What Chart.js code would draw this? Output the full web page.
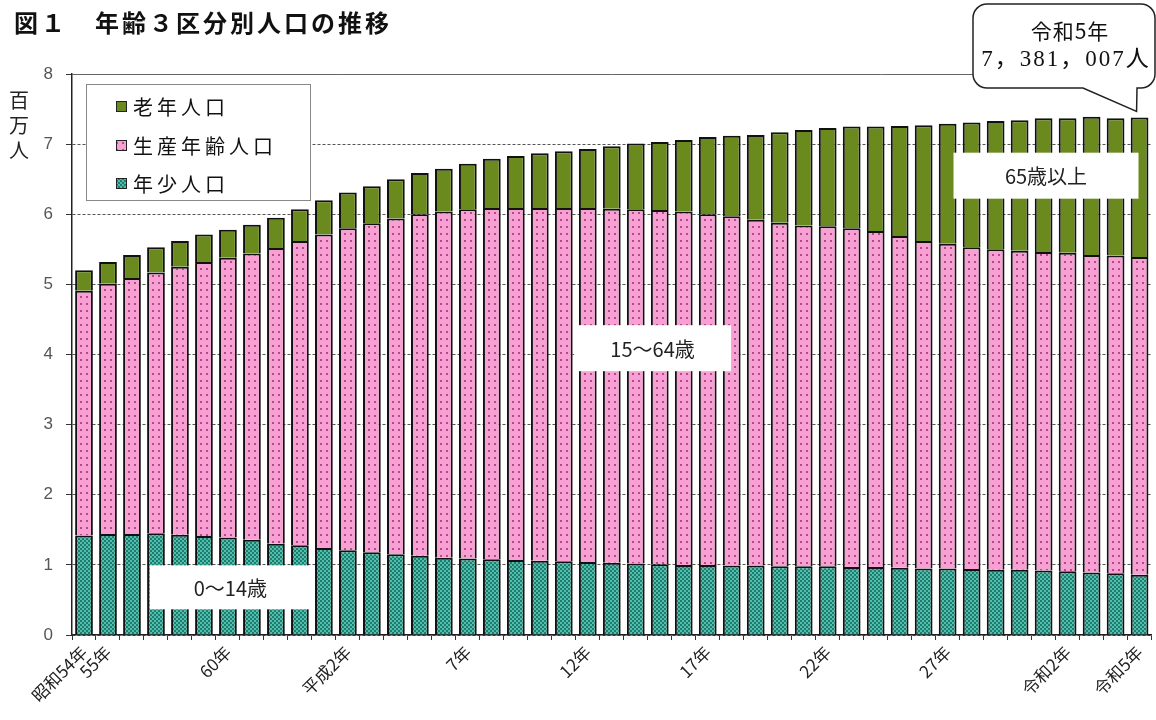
<!DOCTYPE html>
<html lang="ja">
<head>
<meta charset="utf-8">
<script src="https://cdn.jsdelivr.net/npm/chart.js@4.4.0/dist/chart.umd.min.js"></script>
<style>
html, body { margin: 0; padding: 0; background: #fff; }
canvas { display: block; }
</style>
</head>
<body>
<canvas id="myChart" width="1156" height="720"></canvas>
<script>
// 年齢3区分別人口（百万人）昭和54年〜令和5年
var years = ['昭和54年', '55年', '', '', '', '', '60年', '', '', '', '', '平成2年', '', '', '', '',
  '7年', '', '', '', '', '12年', '', '', '', '', '17年', '', '', '', '', '22年', '', '', '', '',
  '27年', '', '', '', '', '令和2年', '', '', '令和5年'];

var youngPop = [1.42, 1.44, 1.44, 1.45, 1.43, 1.41, 1.39, 1.36, 1.30, 1.28, 1.24, 1.21, 1.18, 1.15, 1.13,
  1.10, 1.09, 1.08, 1.07, 1.06, 1.05, 1.04, 1.03, 1.02, 1.01, 1.00, 1.00, 0.99, 0.99, 0.98,
  0.98, 0.98, 0.97, 0.97, 0.96, 0.95, 0.95, 0.94, 0.93, 0.93, 0.92, 0.91, 0.89, 0.88, 0.86];

var workingPop = [3.49, 3.57, 3.65, 3.72, 3.82, 3.91, 3.99, 4.08, 4.22, 4.34, 4.47, 4.59, 4.69, 4.79, 4.87,
  4.94, 4.98, 5.01, 5.02, 5.03, 5.04, 5.05, 5.05, 5.05, 5.05, 5.04, 5.00, 4.98, 4.93, 4.90,
  4.86, 4.85, 4.83, 4.79, 4.73, 4.67, 4.63, 4.59, 4.57, 4.55, 4.54, 4.54, 4.53, 4.53, 4.53];

var elderlyPop = [0.29, 0.31, 0.33, 0.36, 0.37, 0.39, 0.40, 0.41, 0.43, 0.45, 0.49, 0.51, 0.53, 0.56, 0.59,
  0.61, 0.65, 0.70, 0.74, 0.78, 0.81, 0.84, 0.89, 0.94, 0.97, 1.02, 1.10, 1.15, 1.21, 1.29,
  1.36, 1.40, 1.45, 1.49, 1.57, 1.65, 1.71, 1.78, 1.83, 1.86, 1.91, 1.92, 1.97, 1.96, 1.99];

var yTicks = [0, 1, 2, 3, 4, 5, 6, 7, 8];

var titleText = '図１　年齢３区分別人口の推移';
var unitText = ['百', '万', '人'];
var calloutLines = ['令和5年', '7，381，007人'];

// 図中の区分ラベル（x: 棒の番号, y: 百万人）
var areaLabels = [
  { text: '0～14歳', x: 6.1, y: 0.68, w: 161, h: 44 },
  { text: '15～64歳', x: 23.7, y: 4.09, w: 157, h: 46 },
  { text: '65歳以上', x: 40.1, y: 6.55, w: 185, h: 46 }
];

var JP = '"Noto Sans CJK JP", "Noto Sans", sans-serif';

function makePattern(w, h, bg, fg, dots) {
  var c = document.createElement('canvas');
  c.width = w; c.height = h;
  var g = c.getContext('2d');
  g.fillStyle = bg;
  g.fillRect(0, 0, w, h);
  g.fillStyle = fg;
  dots.forEach(function(d) { g.fillRect(d[0], d[1], d[2], d[3]); });
  return g.createPattern(c, 'repeat');
}

var pinkFill = makePattern(6, 7, '#f8a0d4', '#b04a88', [[2, 2, 2, 2]]);
var tealFill = makePattern(4, 4, '#4cc0ad', '#237a6e', [[0, 0, 2, 2], [2, 2, 2, 2]]);
var oliveFill = '#6a8a1e';

// 凡例・注記・吹き出しなど
var decor = {
  id: 'decor',
  beforeDatasetsDraw: function(chart) {
    var ctx = chart.ctx, a = chart.chartArea, ys = chart.scales.y;
    var y8 = Math.round(ys.getPixelForValue(8)) + 0.5;
    ctx.save();
    ctx.strokeStyle = '#666';
    ctx.lineWidth = 1;
    ctx.beginPath();
    ctx.moveTo(a.left, y8);
    ctx.lineTo(a.right, y8);
    ctx.stroke();
    ctx.restore();
  },
  afterDraw: function(chart) {
    var ctx = chart.ctx, xs = chart.scales.x, ys = chart.scales.y;
    ctx.save();

    // タイトル
    ctx.fillStyle = '#111';
    ctx.textBaseline = 'middle';
    ctx.textAlign = 'left';
    ctx.font = 'bold 24px ' + JP;
    ctx.letterSpacing = '3px';
    ctx.fillText(titleText, 14, 23);

    // 単位
    ctx.letterSpacing = '0px';
    ctx.textAlign = 'center';
    ctx.font = '20px ' + JP;
    ctx.fillStyle = '#222';
    unitText.forEach(function(ch, i) { ctx.fillText(ch, 19, 100 + i * 25); });

    // 凡例
    ctx.fillStyle = '#fff';
    ctx.fillRect(86, 84, 224, 116);
    ctx.strokeStyle = '#888';
    ctx.lineWidth = 1;
    ctx.strokeRect(86.5, 84.5, 224, 116);
    var items = chart.data.datasets.slice().reverse();
    var rowY = [106, 145, 183];
    ctx.textAlign = 'left';
    ctx.font = '20px ' + JP;
    ctx.letterSpacing = '4px';
    items.forEach(function(ds, i) {
      ctx.fillStyle = ds.backgroundColor;
      ctx.fillRect(116, rowY[i] - 5, 10, 10);
      ctx.strokeStyle = '#222';
      ctx.lineWidth = 1;
      ctx.strokeRect(116.5, rowY[i] - 4.5, 10, 10);
      ctx.fillStyle = '#111';
      ctx.fillText(ds.label, 133, rowY[i] + 1);
    });
    ctx.letterSpacing = '0px';

    // 区分ラベル
    ctx.textAlign = 'center';
    ctx.font = '20px ' + JP;
    areaLabels.forEach(function(l) {
      var cx = xs.getPixelForValue(l.x), cy = ys.getPixelForValue(l.y);
      ctx.fillStyle = '#fff';
      ctx.fillRect(cx - l.w / 2, cy - l.h / 2, l.w, l.h);
      ctx.fillStyle = '#222';
      ctx.fillText(l.text, cx, cy + 1);
    });

    // 吹き出し
    var last = youngPop.length - 1;
    var tipX = xs.getPixelForValue(last) - 3;
    var tipY = ys.getPixelForValue(youngPop[last] + workingPop[last] + elderlyPop[last]) - 6;
    var L = 973, T = 4, R = 1155, B = 88, r = 14;
    ctx.beginPath();
    ctx.moveTo(L + r, T);
    ctx.lineTo(R - r, T);
    ctx.arcTo(R, T, R, T + r, r);
    ctx.lineTo(R, B - r);
    ctx.arcTo(R, B, R - r, B, r);
    ctx.lineTo(1137, B);
    ctx.lineTo(tipX, tipY);
    ctx.lineTo(1083, B);
    ctx.lineTo(L + r, B);
    ctx.arcTo(L, B, L, B - r, r);
    ctx.lineTo(L, T + r);
    ctx.arcTo(L, T, L + r, T, r);
    ctx.closePath();
    ctx.fillStyle = '#fff';
    ctx.fill();
    ctx.strokeStyle = '#222';
    ctx.lineWidth = 1.5;
    ctx.stroke();
    ctx.fillStyle = '#111';
    ctx.font = '21px ' + JP;
    ctx.letterSpacing = '1px';
    ctx.fillText(calloutLines[0], 1070, 31);
    ctx.font = '23px "Liberation Serif", ' + JP;
    ctx.letterSpacing = '2px';
    ctx.fillText(calloutLines[1], 1066, 60);
    ctx.restore();
  }
};

var ctx = document.getElementById('myChart').getContext('2d');
var chart = new Chart(ctx, {
  type: 'bar',
  data: {
    labels: years,
    datasets: [{
      label: '年少人口',
      data: youngPop,
      backgroundColor: tealFill
    }, {
      label: '生産年齢人口',
      data: workingPop,
      backgroundColor: pinkFill
    }, {
      label: '老年人口',
      data: elderlyPop,
      backgroundColor: oliveFill
    }]
  },
  options: {
    responsive: false,
    animation: false,
    devicePixelRatio: 1,
    layout: { padding: { top: 74, right: -4, left: 0, bottom: 0 } },
    datasets: {
      bar: {
        borderColor: '#111',
        borderWidth: 2,
        borderSkipped: 'start',
        barPercentage: 0.74,
        categoryPercentage: 1
      }
    },
    plugins: {
      legend: { display: false },
      title: { display: false },
      tooltip: { enabled: false }
    },
    scales: {
      x: {
        stacked: true,
        offset: true,
        grid: { display: true, drawOnChartArea: false, drawTicks: true, tickLength: 5, offset: true, tickColor: '#333' },
        border: { color: '#222', width: 1.5 },
        ticks: {
          autoSkip: false,
          maxRotation: 45,
          minRotation: 45,
          padding: 2,
          color: '#222',
          font: { family: JP, size: 17 }
        },
        afterFit: function(s) { s.height = 85; }
      },
      y: {
        stacked: true,
        min: yTicks[0],
        max: yTicks[yTicks.length - 1],
        afterBuildTicks: function(s) { s.ticks = yTicks.map(function(v) { return { value: v }; }); },
        ticks: {
          padding: 13,
          color: '#555',
          font: { family: 'Liberation Sans', size: 17 }
        },
        grid: { color: '#555', lineWidth: 1, tickLength: 6, tickColor: '#333', tickBorderDash: [] },
        border: { color: '#222', width: 1.5, dash: [3, 2] },
        afterFit: function(s) { s.width = 72; }
      }
    }
  },
  plugins: [decor]
});
</script>
</body>
</html>
